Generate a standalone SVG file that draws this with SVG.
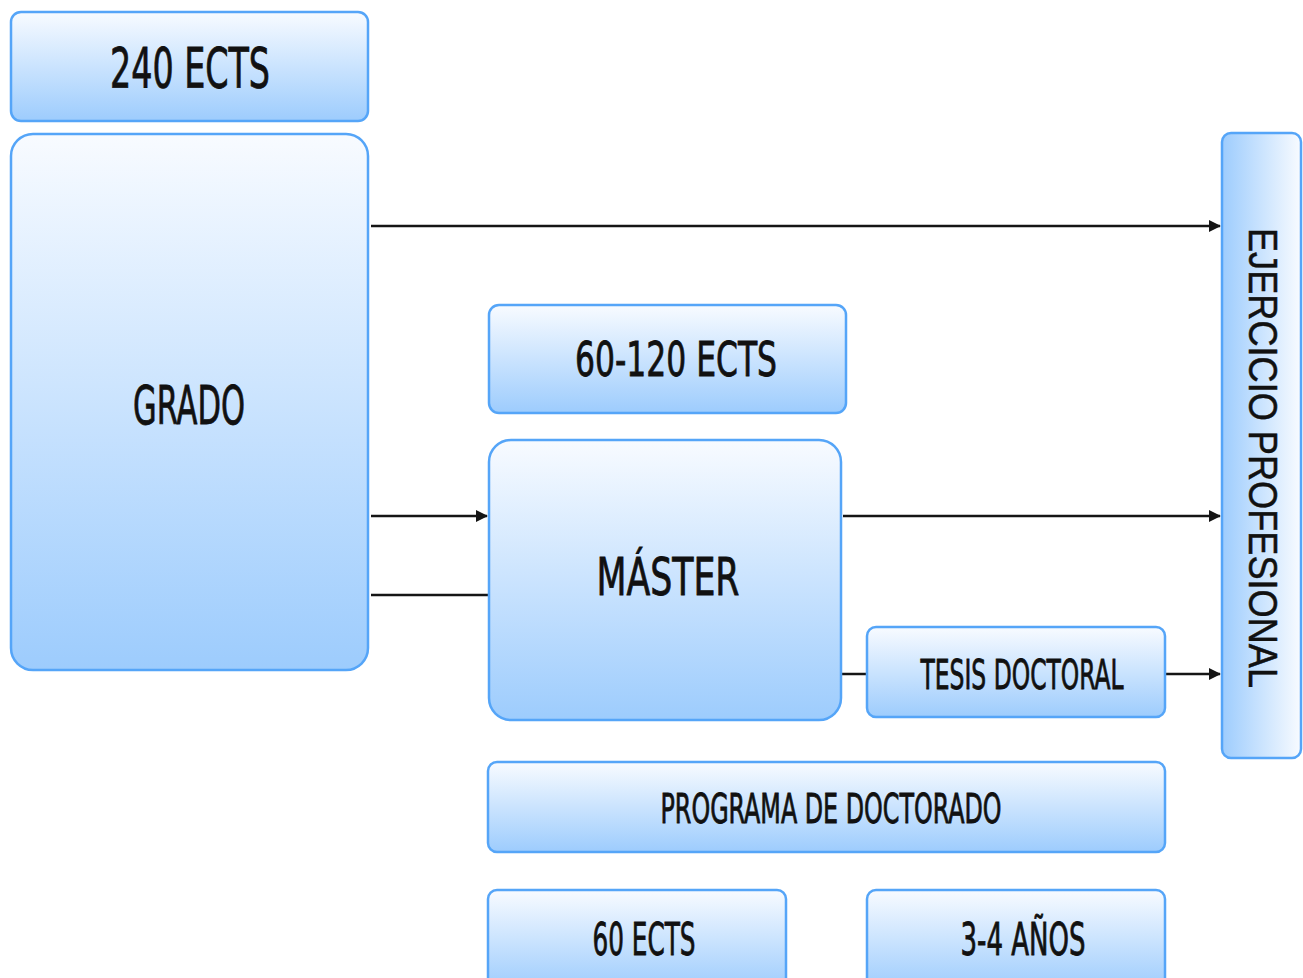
<svg xmlns="http://www.w3.org/2000/svg" width="1303" height="978" viewBox="0 0 1303 978">
<style>
.box{stroke:#55a5f8;stroke-width:2.5;fill:url(#gv)}
.lbl{font-family:'DejaVu Sans Condensed','Liberation Sans Narrow','DejaVu Sans',sans-serif;fill:#111;stroke:#111;stroke-width:0.8;text-anchor:middle}
.conn{stroke:#151515;stroke-width:2.5;fill:none}
</style>
<defs>
<linearGradient id="gv" x1="0" y1="0" x2="0" y2="1">
<stop offset="0" stop-color="#f8fbff"/>
<stop offset="1" stop-color="#9dccfd"/>
</linearGradient>
<linearGradient id="gh" x1="0" y1="0" x2="1" y2="0">
<stop offset="0" stop-color="#9dccfd"/>
<stop offset="1" stop-color="#f8fbff"/>
</linearGradient>
<marker id="arr" markerWidth="12" markerHeight="12" refX="11" refY="6" orient="auto" markerUnits="userSpaceOnUse">
<path d="M0,0 L12,6 L0,12 Z" fill="#151515"/>
</marker>
</defs>
<rect width="1303" height="978" fill="#ffffff"/>
<g id="connectors">
<line class="conn" x1="371" y1="226" x2="1220" y2="226" marker-end="url(#arr)"/>
<line class="conn" x1="371" y1="516" x2="487" y2="516" marker-end="url(#arr)"/>
<line class="conn" x1="371" y1="595" x2="489" y2="595"/>
<line class="conn" x1="843" y1="516" x2="1220" y2="516" marker-end="url(#arr)"/>
<line class="conn" x1="842" y1="674" x2="867" y2="674"/>
<line class="conn" x1="1166" y1="674" x2="1220" y2="674" marker-end="url(#arr)"/>
</g>
<g id="n240">
<rect class="box" x="11" y="12" width="357" height="109" rx="10"/>
<text class="lbl" x="190" y="87" font-size="55" textLength="160" lengthAdjust="spacingAndGlyphs">240 ECTS</text>
</g>
<g id="grado">
<rect class="box" x="11" y="134" width="357" height="536" rx="22"/>
<text class="lbl" x="189" y="424" font-size="53" textLength="112" lengthAdjust="spacingAndGlyphs">GRADO</text>
</g>
<g id="n60120">
<rect class="box" x="489" y="305" width="357" height="108" rx="10"/>
<text class="lbl" x="676" y="376" font-size="48" textLength="202" lengthAdjust="spacingAndGlyphs">60-120 ECTS</text>
</g>
<g id="master">
<rect class="box" x="489" y="440" width="352" height="280" rx="22"/>
<text class="lbl" x="668" y="595" font-size="52" textLength="143" lengthAdjust="spacingAndGlyphs">MÁSTER</text>
</g>
<g id="tesis">
<rect class="box" x="867" y="627" width="298" height="90" rx="9"/>
<text class="lbl" x="1022" y="689" font-size="41" textLength="203" lengthAdjust="spacingAndGlyphs">TESIS DOCTORAL</text>
</g>
<g id="programa">
<rect class="box" x="488" y="762" width="677" height="90" rx="9"/>
<text class="lbl" x="831" y="823" font-size="41" textLength="341" lengthAdjust="spacingAndGlyphs">PROGRAMA DE DOCTORADO</text>
</g>
<g id="n60">
<rect class="box" x="488" y="890" width="298" height="100" rx="9"/>
<text class="lbl" x="644" y="955" font-size="44" textLength="103" lengthAdjust="spacingAndGlyphs">60 ECTS</text>
</g>
<g id="anos">
<rect class="box" x="867" y="890" width="298" height="100" rx="9"/>
<text class="lbl" x="1023" y="955" font-size="44" textLength="125" lengthAdjust="spacingAndGlyphs">3-4 AÑOS</text>
</g>
<g id="ejercicio">
<rect x="1222" y="133" width="79" height="625" rx="9" fill="url(#gh)" stroke="#55a5f8" stroke-width="2.5"/>
<text x="1263" y="458" transform="rotate(90 1263 458)" font-family="'Liberation Sans',Arial,sans-serif" font-size="40" fill="#111" stroke="#111" stroke-width="0.5" text-anchor="middle" dominant-baseline="central" textLength="460" lengthAdjust="spacingAndGlyphs">EJERCICIO PROFESIONAL</text>
</g>
</svg>
